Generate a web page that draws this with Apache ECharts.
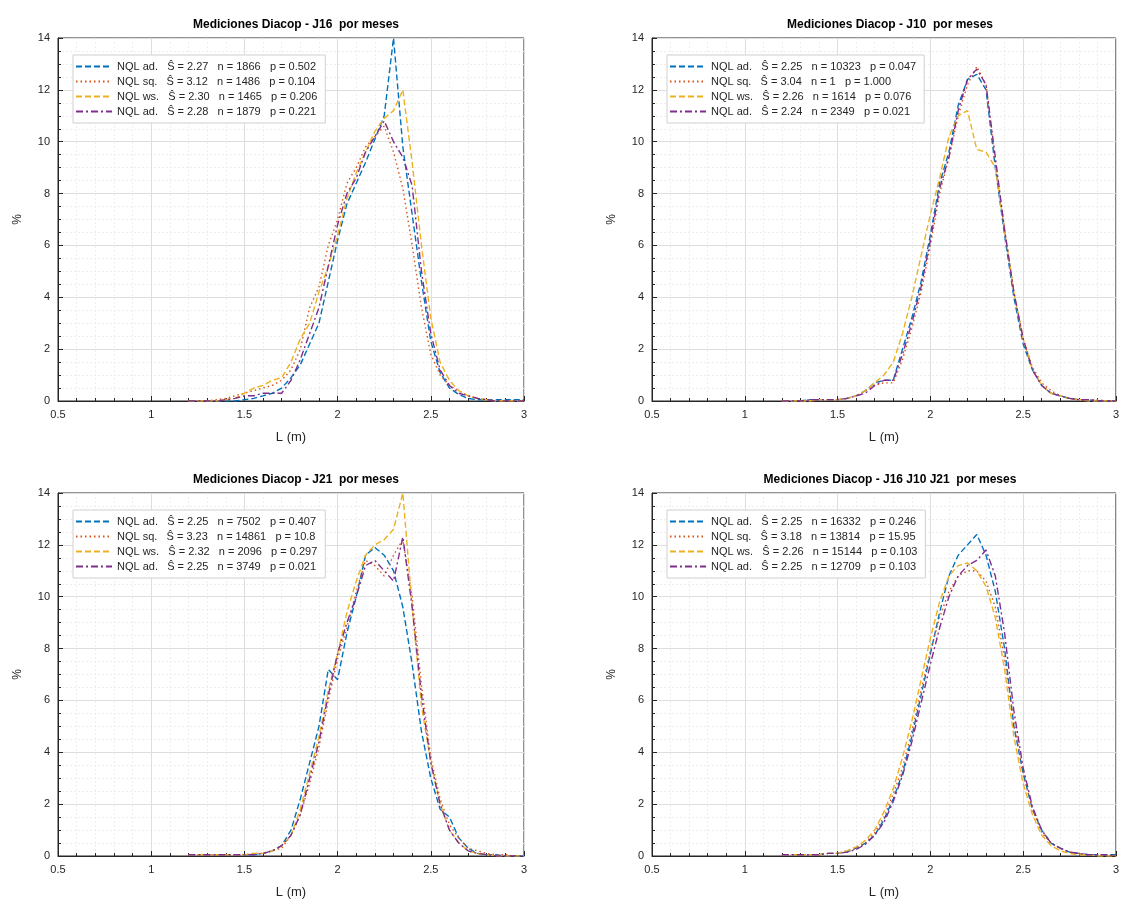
<!DOCTYPE html>
<html>
<head>
<meta charset="utf-8">
<script src="https://cdn.jsdelivr.net/npm/echarts@6/dist/echarts.min.js"></script>
<style>
  html, body { margin: 0; padding: 0; background: #ffffff; }
  #chart { width: 1122px; height: 905px; }
</style>
</head>
<body>
<div id="chart"></div>
<script>
// Bin centres of the length histograms (m)
const binCenters = [1.20, 1.25, 1.30, 1.35, 1.40, 1.45, 1.50, 1.55, 1.60, 1.65, 1.70, 1.75, 1.80,
  1.85, 1.90, 1.95, 2.00, 2.05, 2.10, 2.15, 2.20, 2.25, 2.30, 2.35, 2.40, 2.45, 2.50, 2.55,
  2.60, 2.65, 2.70, 2.75, 2.80, 2.85, 2.90, 2.95, 3.00];

const xTicks = [0.5, 1, 1.5, 2, 2.5, 3];
const yTicks = [0, 2, 4, 6, 8, 10, 12, 14];

const panelTitles = [
  'Mediciones Diacop - J16  por meses',
  'Mediciones Diacop - J10  por meses',
  'Mediciones Diacop - J21  por meses',
  'Mediciones Diacop - J16 J10 J21  por meses'
];

const legendJ16 = [
  'NQL ad.   Ŝ = 2.27   n = 1866   p = 0.502',
  'NQL sq.   Ŝ = 3.12   n = 1486   p = 0.104',
  'NQL ws.   Ŝ = 2.30   n = 1465   p = 0.206',
  'NQL ad.   Ŝ = 2.28   n = 1879   p = 0.221'
];
const legendJ10 = [
  'NQL ad.   Ŝ = 2.25   n = 10323   p = 0.047',
  'NQL sq.   Ŝ = 3.04   n = 1   p = 1.000',
  'NQL ws.   Ŝ = 2.26   n = 1614   p = 0.076',
  'NQL ad.   Ŝ = 2.24   n = 2349   p = 0.021'
];
const legendJ21 = [
  'NQL ad.   Ŝ = 2.25   n = 7502   p = 0.407',
  'NQL sq.   Ŝ = 3.23   n = 14861   p = 10.8',
  'NQL ws.   Ŝ = 2.32   n = 2096   p = 0.297',
  'NQL ad.   Ŝ = 2.25   n = 3749   p = 0.021'
];
const legendAll = [
  'NQL ad.   Ŝ = 2.25   n = 16332   p = 0.246',
  'NQL sq.   Ŝ = 3.18   n = 13814   p = 15.95',
  'NQL ws.   Ŝ = 2.26   n = 15144   p = 0.103',
  'NQL ad.   Ŝ = 2.25   n = 12709   p = 0.103'
];

// Percentage of measurements per bin, one array per month
const j16Mes1 = [0,0,0,0,0,0,0.05,0.1,0.2,0.3,0.5,0.9,1.4,2.2,3.0,4.6,6.2,7.6,8.4,9.2,10.1,11.0,14.0,9.8,7.2,4.6,2.3,1.1,0.5,0.25,0.1,0.05,0.05,0.05,0.05,0.05,0.05];
const j16Mes2 = [0,0,0,0.05,0.1,0.2,0.3,0.4,0.5,0.6,0.8,1.2,2.0,3.6,4.4,6.0,7.0,8.4,9.0,9.8,10.2,10.6,9.6,8.2,6.0,3.6,1.8,1.0,0.6,0.4,0.2,0.1,0.05,0,0,0,0];
const j16Mes3 = [0,0,0,0,0.05,0.1,0.3,0.5,0.6,0.8,0.9,1.5,2.4,3.0,4.2,5.2,6.4,7.8,8.8,9.6,10.4,10.9,11.2,12.0,9.2,6.0,3.2,1.5,0.8,0.4,0.2,0.1,0.05,0,0,0,0];
const j16Mes4 = [0,0,0,0,0.05,0.1,0.2,0.2,0.3,0.3,0.3,0.8,1.6,2.6,3.6,5.2,6.8,8.0,8.6,9.6,10.2,10.8,10.0,9.4,8.3,5.0,2.6,1.2,0.6,0.3,0.2,0.1,0.05,0,0,0,0];

const j10Mes1 = [0,0,0,0.05,0.05,0.05,0.05,0.1,0.2,0.4,0.7,0.8,0.8,2.0,3.2,4.6,6.4,8.4,9.6,11.4,12.4,12.6,12.0,9.0,6.4,4.0,2.2,1.2,0.6,0.3,0.2,0.1,0.05,0.05,0,0,0];
const j10Mes2 = [0,0,0,0,0.05,0.05,0.05,0.1,0.2,0.4,0.6,0.7,0.7,1.6,2.8,4.2,6.0,8.0,9.4,11.0,12.2,12.9,12.2,9.2,6.6,4.2,2.4,1.3,0.7,0.4,0.2,0.1,0.05,0.05,0.05,0,0];
const j10Mes3 = [0,0,0,0,0.05,0.05,0.05,0.1,0.2,0.4,0.7,1.0,1.5,2.6,4.0,5.6,7.2,8.6,10.2,11.0,11.2,9.7,9.6,9.0,6.6,4.2,2.4,1.2,0.6,0.3,0.2,0.1,0.05,0,0,0,0];
const j10Mes4 = [0,0,0,0.05,0.05,0.05,0.05,0.1,0.2,0.3,0.6,0.8,0.8,1.8,3.0,4.4,6.2,8.2,9.4,11.2,12.4,12.8,12.2,9.4,6.6,4.2,2.4,1.2,0.6,0.3,0.2,0.1,0.05,0.05,0,0,0];

const j21Mes1 = [0.05,0.05,0.05,0.05,0.05,0.05,0.05,0.05,0.1,0.2,0.4,1.0,2.2,3.6,5.0,7.2,6.8,8.6,10.0,11.6,11.9,11.6,11.0,9.6,7.4,4.8,3.0,1.8,1.5,0.7,0.3,0.1,0.05,0.05,0,0,0];
const j21Mes2 = [0.05,0.05,0.05,0.05,0.05,0.05,0.05,0.1,0.1,0.2,0.3,0.8,1.6,2.8,4.2,6.0,7.6,8.8,10.2,11.4,11.2,10.8,11.6,12.2,10.0,6.6,3.8,2.2,1.2,0.7,0.3,0.2,0.1,0.05,0.05,0,0];
const j21Mes3 = [0.05,0.05,0.05,0.05,0.05,0.05,0.05,0.1,0.1,0.2,0.4,0.8,1.8,3.2,4.6,6.4,7.8,9.4,10.6,11.6,12.0,12.2,12.6,14.0,9.6,5.8,3.6,2.0,1.0,0.5,0.2,0.1,0.05,0,0,0,0];
const j21Mes4 = [0.05,0.05,0.05,0.05,0.05,0.05,0.05,0.05,0.1,0.2,0.4,0.8,1.6,3.0,4.4,6.2,7.8,9.0,10.0,11.2,11.4,11.0,10.6,12.3,9.6,6.2,3.6,2.0,1.0,0.5,0.2,0.1,0.05,0,0,0,0];

const allMes1 = [0.05,0.05,0.05,0.05,0.05,0.1,0.1,0.15,0.3,0.5,0.8,1.4,2.2,3.2,4.6,6.2,7.8,9.4,10.8,11.6,12.0,12.4,11.6,10.2,8.0,5.0,3.2,1.8,1.0,0.5,0.3,0.15,0.1,0.05,0.05,0.05,0.05];
const allMes2 = [0.05,0.05,0.05,0.05,0.05,0.1,0.1,0.2,0.3,0.5,0.9,1.5,2.4,3.4,4.8,6.4,7.9,9.2,10.2,10.8,11.0,11.0,10.6,9.6,7.6,5.2,3.2,1.8,0.9,0.5,0.3,0.15,0.1,0.05,0.05,0.05,0];
const allMes3 = [0.05,0.05,0.05,0.05,0.05,0.1,0.1,0.2,0.35,0.6,1.0,1.7,2.6,3.8,5.2,6.8,8.4,9.8,10.8,11.2,11.3,11.0,10.4,9.2,7.2,4.6,2.8,1.6,0.8,0.4,0.2,0.1,0.05,0.05,0,0,0];
const allMes4 = [0.05,0.05,0.05,0.05,0.05,0.1,0.1,0.15,0.25,0.45,0.8,1.3,2.1,3.1,4.4,5.9,7.4,8.8,10.0,10.8,11.2,11.4,11.8,10.8,8.6,5.6,3.4,1.9,1.0,0.5,0.3,0.15,0.1,0.05,0.05,0.05,0];

const panels = [
  { legend: legendJ16, months: [j16Mes1, j16Mes2, j16Mes3, j16Mes4] },
  { legend: legendJ10, months: [j10Mes1, j10Mes2, j10Mes3, j10Mes4] },
  { legend: legendJ21, months: [j21Mes1, j21Mes2, j21Mes3, j21Mes4] },
  { legend: legendAll, months: [allMes1, allMes2, allMes3, allMes4] }
];

// MATLAB-like line colours and styles for the four months
const monthColors = ['#0072BD', '#D95319', '#EDB120', '#7E2F8E'];
const monthDash = [[6, 3], [1.5, 3], [6, 3], [7, 3, 2, 3]];

const FONT = 'Liberation Sans, Arial, sans-serif';
const boxes = [
  { left: 58, top: 38 }, { left: 652, top: 38 },
  { left: 58, top: 493 }, { left: 652, top: 493 }
];
const W = 466, H = 363;

const option = {
  backgroundColor: '#ffffff',
  animation: false,
  title: [], grid: [], xAxis: [], yAxis: [], legend: [], series: []
};

panels.forEach((p, i) => {
  const b = boxes[i];
  option.title.push({
    text: panelTitles[i],
    left: b.left + W / 2, top: b.top - 24, textAlign: 'center',
    textStyle: { fontFamily: FONT, fontSize: 12, fontWeight: 'bold', color: '#000' }
  });
  option.grid.push({
    left: b.left, top: b.top, width: W, height: H,
    show: true, borderColor: '#262626', borderWidth: 1, backgroundColor: '#fff'
  });
  option.xAxis.push({
    type: 'value', gridIndex: i, min: xTicks[0], max: xTicks[xTicks.length - 1], interval: 0.5,
    name: 'L (m)', nameLocation: 'middle', nameGap: 30,
    nameTextStyle: { fontFamily: FONT, fontSize: 13, color: '#262626' },
    axisLine: { show: true, onZero: false, lineStyle: { color: '#262626', width: 1 } },
    axisTick: { show: true, inside: true, length: 5, lineStyle: { color: '#262626' } },
    minorTick: { show: true, splitNumber: 5, length: 3, lineStyle: { color: '#262626' } },
    axisLabel: { fontFamily: FONT, fontSize: 11, color: '#262626', margin: 8 },
    splitLine: { show: true, lineStyle: { color: '#dedede', width: 1 } },
    minorSplitLine: { show: true, lineStyle: { color: '#eeeeee', width: 1, type: [2, 2] } }
  });
  option.yAxis.push({
    type: 'value', gridIndex: i, min: yTicks[0], max: yTicks[yTicks.length - 1], interval: 2,
    name: '%', nameLocation: 'middle', nameGap: 34, nameRotate: 90,
    nameTextStyle: { fontFamily: FONT, fontSize: 12, color: '#262626' },
    axisLine: { show: true, lineStyle: { color: '#262626', width: 1 } },
    axisTick: { show: true, inside: true, length: 5, lineStyle: { color: '#262626' } },
    minorTick: { show: true, splitNumber: 4, length: 3, lineStyle: { color: '#262626' } },
    axisLabel: { fontFamily: FONT, fontSize: 11, color: '#262626', margin: 8 },
    splitLine: { show: true, lineStyle: { color: '#dedede', width: 1 } },
    minorSplitLine: { show: true, lineStyle: { color: '#eeeeee', width: 1, type: [2, 2] } }
  });
  option.legend.push({
    show: true,
    orient: 'vertical', left: b.left + 15, top: b.top + 17,
    data: p.legend.slice(),
    itemWidth: 36, itemHeight: 13, itemGap: 4,
    padding: [6, 8, 6, 2],
    backgroundColor: '#ffffff', borderColor: '#d0d0d0', borderWidth: 1,
    itemStyle: { opacity: 0 },
    textStyle: { fontFamily: FONT, fontSize: 11, color: '#262626' },
    z: 10
  });
  p.months.forEach((vals, k) => {
    option.series.push({
      name: p.legend[k], type: 'line', xAxisIndex: i, yAxisIndex: i,
      data: binCenters.map((x, j) => [x, vals[j]]),
      showSymbol: false, symbol: 'none', z: 3 + k,
      itemStyle: { color: monthColors[k] },
      lineStyle: { color: monthColors[k], width: 1.4, type: monthDash[k] }
    });
  });
});

const chart = echarts.init(document.getElementById('chart'), null, { renderer: 'canvas' });
chart.setOption(option);
</script>
</body>
</html>
